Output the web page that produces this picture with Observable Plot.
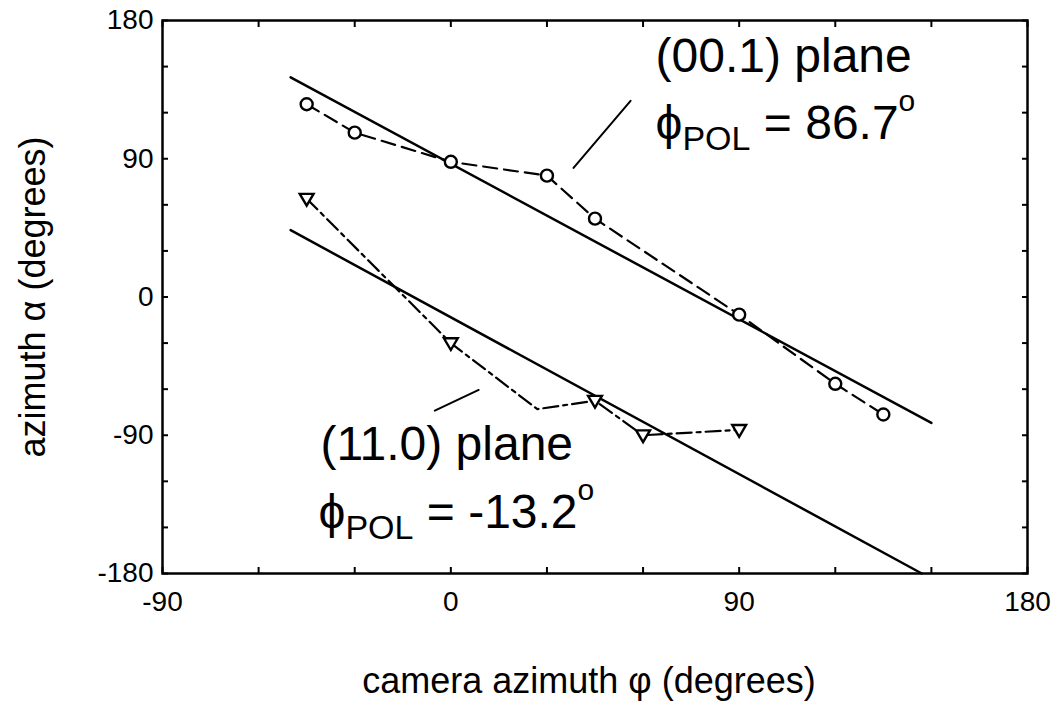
<!DOCTYPE html>
<html><head><meta charset="utf-8">
<script src="https://cdn.jsdelivr.net/npm/d3@7"></script>
<script src="https://cdn.jsdelivr.net/npm/@observablehq/plot@0.6"></script>
<style>body{margin:0;background:#fff;} svg{display:block;}</style>
</head><body><div id="chart"></div>
<script>
// (00.1) plane measurements: circles, dashed line
const circlePhi   = [-45, -30, 0, 30, 45, 90, 120, 135];
const circleAlpha = [125.5, 107, 88, 79, 51, -11.5, -56.5, -76.5];
// (11.0) plane measurements: down triangles, dash-dot line
const triPhi    = [-45, 0, 27, 45, 60, 90];
const triAlpha  = [64, -30, -73, -67.5, -90, -86.5];
const triMarked = [true, true, false, true, true, true];
// fitted model lines
const fit001Phi = [-50, 150], fit001Alpha = [143, -82];
const fit110Phi = [-50, 147], fit110Alpha = [43.5, -180];
// annotation leader lines
const lead001Phi = [38.3, 56.1], lead001Alpha = [84, 127.7];
const lead110Phi = [-5, 8.7],   lead110Alpha = [-74, -60.5];
// annotation texts and anchors (data coords, baseline)
const noteText  = ["(00.1) plane", "ϕPOL = 86.7°", "(11.0) plane", "ϕPOL = -13.2°"];
const notePhi   = [63.9, 63.9, -40.7, -41.3];
const noteAlpha = [146.5, 103, -105.9, -150.7];
// axes
const xDomain = [-90, 180], yDomain = [-180, 180];
const xTickLabels = [-90, 0, 90, 180];
const yTickLabels = [-180, -90, 0, 90, 180];
const xMinor = [-90, -60, -30, 0, 30, 60, 90, 120, 150, 180];
const yMinor = [-180, -150, -120, -90, -60, -30, 0, 30, 60, 90, 120, 150, 180];
const xTitle = "camera azimuth φ (degrees)";
const yTitle = "azimuth α (degrees)";

const pts = (xs, ys) => xs.map((x, i) => ({x, y: ys[i]}));
const circles = pts(circlePhi, circleAlpha);
const tris = pts(triPhi, triAlpha).map((d, i) => ({...d, m: triMarked[i]}));
const notes = noteText.map((t, i) => ({t, x: notePhi[i], y: noteAlpha[i]}));

const triangleDown = {
  draw(ctx, size) {
    const a = Math.sqrt(size);
    ctx.moveTo(-a * 0.6, -a * 0.42);
    ctx.lineTo(a * 0.6, -a * 0.42);
    ctx.lineTo(0, a * 0.6);
    ctx.closePath();
  }
};

const font = "'Liberation Sans', Arial, 'DejaVu Sans', sans-serif";

const chart = Plot.plot({
  width: 1055, height: 724,
  marginLeft: 162, marginRight: 28, marginTop: 20, marginBottom: 151,
  x: {domain: xDomain},
  y: {domain: yDomain},
  style: {fontFamily: font, background: "white", color: "black"},
  marks: [
    Plot.axisX({anchor: "bottom", ticks: xMinor, tickSize: -6, strokeWidth: 2, fill: "none", label: null}),
    Plot.axisX({anchor: "top", ticks: xMinor, tickSize: -6, strokeWidth: 2, fill: "none", label: null}),
    Plot.axisY({anchor: "left", ticks: yMinor, tickSize: -6, strokeWidth: 2, fill: "none", label: null}),
    Plot.axisY({anchor: "right", ticks: yMinor, tickSize: -6, strokeWidth: 2, fill: "none", label: null}),
    Plot.axisX({anchor: "bottom", ticks: xTickLabels, tickSize: 0, tickPadding: 18, fontSize: 28, label: null, tickFormat: d => String(d)}),
    Plot.axisY({anchor: "left", ticks: yTickLabels, tickSize: 0, tickPadding: 9, fontSize: 28, label: null, tickFormat: d => String(d)}),
    Plot.frame({stroke: "black", strokeWidth: 2.5}),
    Plot.line(pts(fit001Phi, fit001Alpha), {x: "x", y: "y", stroke: "black", strokeWidth: 2.5}),
    Plot.line(pts(fit110Phi, fit110Alpha), {x: "x", y: "y", stroke: "black", strokeWidth: 2.5}),
    Plot.line(circles, {x: "x", y: "y", stroke: "black", strokeWidth: 2.2, strokeDasharray: "14,7"}),
    Plot.line(tris, {x: "x", y: "y", stroke: "black", strokeWidth: 2.2, strokeDasharray: "15,5,4,5"}),
    Plot.dot(circles, {x: "x", y: "y", r: 6, stroke: "black", strokeWidth: 2.4, fill: "white"}),
    Plot.dot(tris.filter(d => d.m), {x: "x", y: "y", r: 6.5, symbol: triangleDown, stroke: "black", strokeWidth: 2.4, fill: "white"}),
    Plot.line(pts(lead001Phi, lead001Alpha), {x: "x", y: "y", stroke: "black", strokeWidth: 2}),
    Plot.line(pts(lead110Phi, lead110Alpha), {x: "x", y: "y", stroke: "black", strokeWidth: 2}),
    Plot.text(notes, {x: "x", y: "y", text: "t", textAnchor: "start", lineAnchor: "bottom", fontSize: 48, fill: "black"}),
    Plot.text([xTitle], {text: d => d, frameAnchor: "bottom", textAnchor: "middle", dx: -6, dy: 119, fontSize: 36, fill: "black"}),
    Plot.text([yTitle], {text: d => d, frameAnchor: "left", textAnchor: "middle", rotate: -90, dx: -129, fontSize: 36, fill: "black"})
  ]
});

// rich text: subscript POL and superscript degree
const ns = "http://www.w3.org/2000/svg";
chart.querySelectorAll("text").forEach(t => {
  const m = t.textContent.match(/^ϕPOL(.*)°$/);
  if (!m) return;
  t.textContent = "";
  const add = (txt, size, dy) => {
    const s = document.createElementNS(ns, "tspan");
    s.textContent = txt;
    if (size) s.setAttribute("font-size", size);
    if (dy) s.setAttribute("dy", dy);
    t.appendChild(s);
  };
  add("ϕ", 48, 0);
  add("POL", 34, 11);
  add(m[1], 48, -11);
  add("o", 30, -28);
});

document.getElementById("chart").appendChild(chart);
</script>
</body></html>
